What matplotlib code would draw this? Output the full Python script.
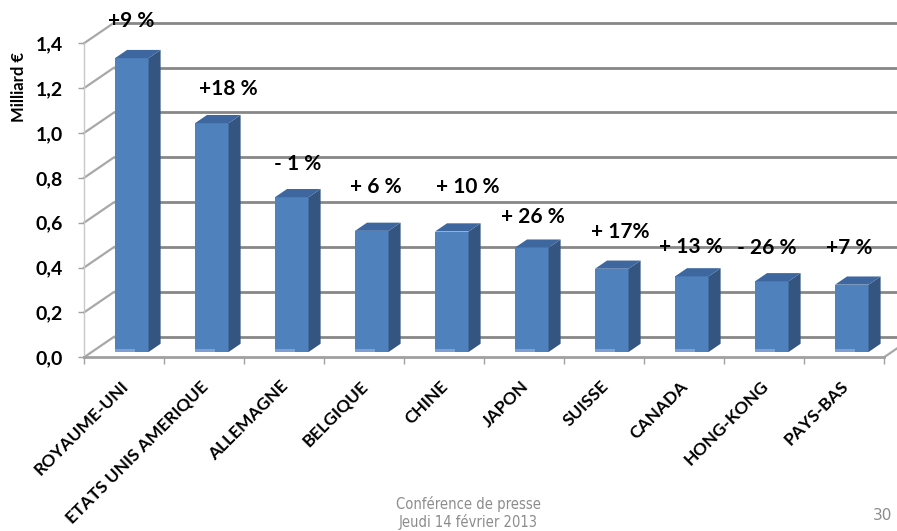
import matplotlib
matplotlib.use("Agg")
import matplotlib.pyplot as plt
from matplotlib.patches import Polygon
import matplotlib.transforms as mtransforms
import numpy as np

# ---- data ----
categories = ["ROYAUME-UNI", "ETATS UNIS AMERIQUE", "ALLEMAGNE", "BELGIQUE", "CHINE",
              "JAPON", "SUISSE", "CANADA", "HONG-KONG", "PAYS-BAS"]
values = [1.31, 1.02, 0.69, 0.54, 0.537, 0.465, 0.371, 0.337, 0.315, 0.30]
changes = ["+9 %", "+18 %", "- 1 %", "+ 6 %", "+ 10 %", "+ 26 %", "+ 17%", "+ 13 %", "- 26 %", "+7 %"]
ytick_values = [0.0, 0.2, 0.4, 0.6, 0.8, 1.0, 1.2, 1.4]
ytick_labels = ["0,0", "0,2", "0,4", "0,6", "0,8", "1,0", "1,2", "1,4"]

# label placement (data coords), kept apart from the data
change_pos_x = [0.09, 1.30, 2.17, 3.15, 4.30, 5.11, 6.20, 7.08, 8.03, 9.06]
change_pos_y = [1.50, 1.195, 0.862, 0.761, 0.761, 0.627, 0.557, 0.493, 0.486, 0.487]

# ---- 3D look parameters ----
DX, DY = 0.375, 0.0914      # full depth offset in data units
F = 0.26                    # depth fraction of bar front face
B = 0.40                    # bar depth fraction
W = 0.42                    # bar width

FRONT = "#4F81BD"
SIDE = "#34557F"
TOP = "#3D679E"
GRID = "#878787"
WALL = "#A8A8A8"

BOLD = "Lato"

W_PX, H_PX = 897, 531
fig = plt.figure(figsize=(W_PX / 100, H_PX / 100), dpi=100)
fig.patch.set_facecolor("white")

left = 84 / W_PX
width = 800 / W_PX
bottom = (H_PX - 357.3) / H_PX
height = 1.4 * 224.3 / H_PX
ax = fig.add_axes([left, bottom, width, height])
ax.set_facecolor("none")
n = len(categories)
ax.set_xlim(-0.5, n - 0.5)
ax.set_ylim(0, 1.4)

# back wall gridlines
for v in ytick_values:
    ax.plot([-0.5 + DX, n - 0.5 + DX], [v + DY, v + DY], color=GRID, lw=2.0,
            clip_on=False, zorder=1, solid_capstyle="butt")
    # side wall diagonals
    ax.plot([-0.5, -0.5 + DX], [v, v + DY], color=WALL, lw=1.6, clip_on=False, zorder=1)
# right floor edge
ax.plot([n - 0.5, n - 0.5 + DX], [0, DY], color=WALL, lw=1.6, clip_on=False, zorder=1)

# bars: front faces via ax.bar, side/top faces as polygons
x = np.arange(n)
xf = x + F * DX
base = F * DY
ax.bar(xf, values, width=W, bottom=base, color=FRONT, edgecolor="none", zorder=3)
ax.bar(xf - W * 0.2, [0.012] * n, width=W * 0.6, bottom=base, color="#7E9FD2",
       edgecolor="none", zorder=3.5)
for xi, v in zip(xf, values):
    r = xi + W / 2
    l = xi - W / 2
    top = base + v
    side = Polygon([[r, base], [r + B * DX, base + B * DY], [r + B * DX, top + B * DY], [r, top]],
                   closed=True, facecolor=SIDE, edgecolor="none", zorder=3)
    topf = Polygon([[l, top], [r, top], [r + B * DX, top + B * DY], [l + B * DX, top + B * DY]],
                   closed=True, facecolor=TOP, edgecolor="none", zorder=3)
    ax.add_patch(side)
    ax.add_patch(topf)

# spines
for s in ("top", "right"):
    ax.spines[s].set_visible(False)
ax.spines["left"].set_color("#C8C8C8")
ax.spines["left"].set_linewidth(1.0)
ax.spines["bottom"].set_color("#A0A0A0")
ax.spines["bottom"].set_linewidth(2.0)
ax.spines["bottom"].set_zorder(4)

# y axis
ax.set_yticks(ytick_values)
ax.set_yticklabels(ytick_labels, fontfamily=BOLD, fontweight="bold", fontsize=14)
ax.tick_params(axis="y", direction="out", length=4, width=1, color="#A0A0A0", pad=11)

# x axis
ax.set_xticks(x)
ax.set_xticklabels(categories, rotation=45, ha="right", va="top", rotation_mode="anchor",
                   fontfamily=BOLD, fontweight="bold", fontsize=12.5)
ax.set_xticks(np.arange(-0.5, n, 1.0), minor=True)
ax.tick_params(axis="x", which="major", length=0, pad=15)
ax.tick_params(axis="x", which="minor", direction="out", length=5, width=1, color="#A0A0A0")
shift = mtransforms.ScaledTranslation(-4 / 100, 0, fig.dpi_scale_trans)
for lab in ax.get_xticklabels():
    lab.set_transform(lab.get_transform() + shift)

# change labels
for px, py, t in zip(change_pos_x, change_pos_y, changes):
    ax.text(px, py, t, ha="center", va="center", fontfamily=BOLD, fontweight="bold",
            fontsize=15, color="black", clip_on=False, zorder=5)

# y label
fig.text(19 / W_PX, 1 - 87 / H_PX, "Milliard €", rotation=90, ha="center", va="center",
         fontfamily=BOLD, fontweight="bold", fontsize=12)

# footer
fig.text(468 / W_PX, 1 - 504.5 / H_PX, "Conférence de presse", ha="center", va="center",
         fontfamily="DejaVu Sans", fontstretch="condensed", fontsize=10.5, color="#8C8C8C")
fig.text(468 / W_PX, 1 - 521.5 / H_PX, "Jeudi 14 février 2013", ha="center", va="center",
         fontfamily="DejaVu Sans", fontstretch="condensed", fontsize=10.5, color="#8C8C8C")
fig.text(882 / W_PX, 1 - 516 / H_PX, "30", ha="center", va="center",
         fontfamily="DejaVu Sans", fontsize=11, color="#8C8C8C")

fig.savefig("out.png", dpi=100)
